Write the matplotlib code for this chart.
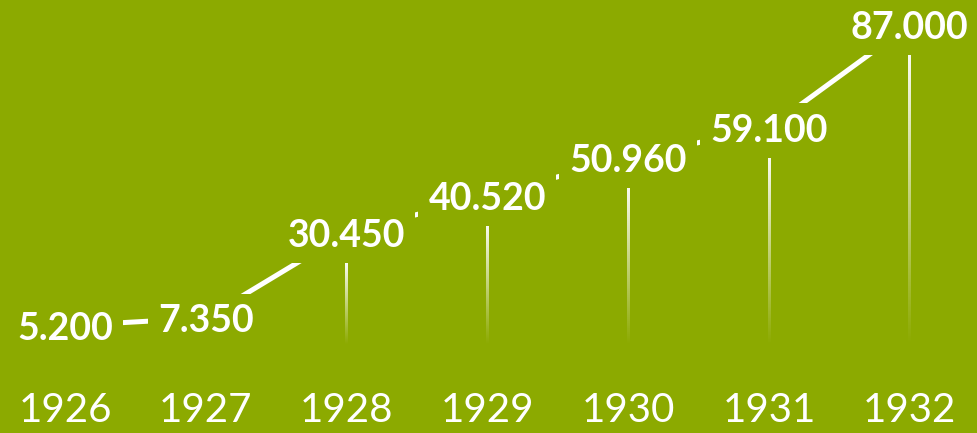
#! /usr/bin/env python3
import numpy as np
import matplotlib.pyplot as plt
from matplotlib import transforms

years = ['1926', '1927', '1928', '1929', '1930', '1931', '1932']
values = [5200, 7350, 30450, 40520, 50960, 59100, 87000]
value_labels = ['5.200', '7.350', '30.450', '40.520', '50.960', '59.100', '87.000']

BG = '#8caa00'
W, H = 977, 433
XLIM = (-0.4616, 6.477)
YLIM = (-23930, 93800)

fig = plt.figure(figsize=(W / 100, H / 100), dpi=100, facecolor=BG)
ax = fig.add_axes([0, 0, 1, 1])
ax.set_facecolor(BG)
ax.set_xlim(*XLIM)
ax.set_ylim(*YLIM)
ax.axis('off')

x = np.arange(len(values))
upp_y = (YLIM[1] - YLIM[0]) / H  # data units per pixel
upp_x = (XLIM[1] - XLIM[0]) / W

# connecting line
ax.plot(x, values, color='white', lw=3.6, solid_capstyle='butt', zorder=2)

# vertical gradient lines, stopping short below each label
grad = np.zeros((256, 1, 4))
grad[..., :3] = 1.0
grad[:, 0, 3] = np.linspace(0.95, 0.0, 256)
for xi, v in zip(x, values):
    top = v - 30 * upp_y
    if top <= 0:
        continue
    half = 1.5 * upp_x
    ax.imshow(grad, extent=(xi - half, xi + half, 0, top), aspect='auto',
              interpolation='bilinear', zorder=1)
ax.set_xlim(*XLIM)
ax.set_ylim(*YLIM)

# value labels with background boxes that hide the line
lab_tr = transforms.offset_copy(ax.transData, fig, x=0, y=-14, units='dots')
for xi, v, s in zip(x, values, value_labels):
    ax.text(xi, v, s, transform=lab_tr, ha='center', va='baseline',
            color='white', fontsize=27, fontfamily='Lato', fontweight='bold',
            zorder=3,
            bbox=dict(boxstyle='square,pad=0.27', fc=BG, ec='none'))

# year labels
yr_tr = transforms.blended_transform_factory(ax.transData, ax.transAxes)
for xi, yr in zip(x, years):
    ax.text(xi, 1 - 422 / H, yr, transform=yr_tr, ha='center', va='baseline',
            color='white', fontsize=29, fontfamily='Lato')

plt.savefig('out.png', dpi=100, facecolor=BG)
